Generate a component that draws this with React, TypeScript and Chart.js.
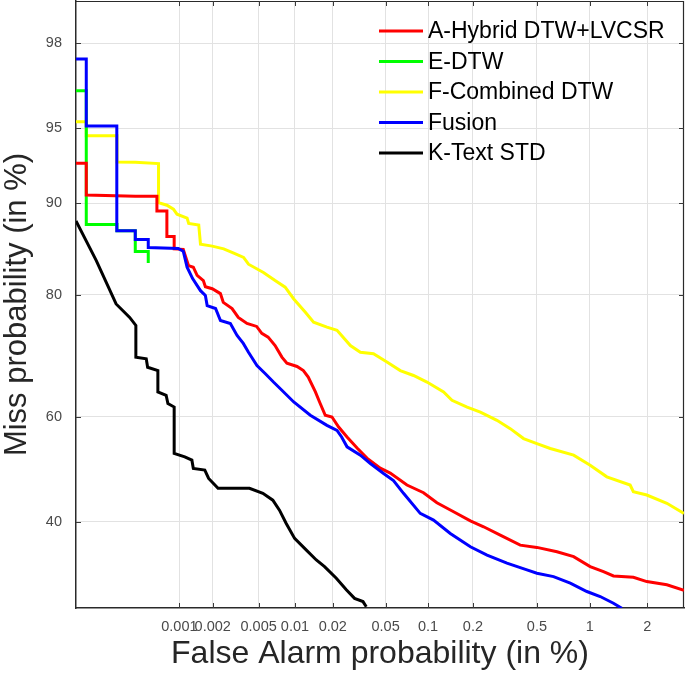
import React, { useEffect, useRef } from 'react';
import { Chart, registerables, LinearScale } from 'chart.js';

Chart.register(...registerables);

// ---------- axis definitions (values in %) ----------
const X_TICKS = [0.001, 0.002, 0.005, 0.01, 0.02, 0.05, 0.1, 0.2, 0.5, 1, 2];
const X_TICK_LABELS = ['0.001', '0.002', '0.005', '0.01', '0.02', '0.05', '0.1', '0.2', '0.5', '1', '2'];
const Y_TICKS = [40, 60, 80, 90, 95, 98];
const Y_TICK_LABELS = ['40', '60', '80', '90', '95', '98'];
const X_MIN = 0.0001;
const X_MAX = 3;
const Y_MIN = 25.2;
const Y_MAX = 98.8;

// ---------- series ----------
const SERIES_LABELS = ['A-Hybrid DTW+LVCSR', 'E-DTW', 'F-Combined DTW', 'Fusion', 'K-Text STD'];
const SERIES_COLORS = ['#ff0000', '#00ff00', '#ffff00', '#0000ff', '#000000'];

const A_FA = [0.0001, 0.000127, 0.000127, 0.000385, 0.000618, 0.000618, 0.000766, 0.000766, 0.000895, 0.000895, 0.001085, 0.00121, 0.00134, 0.00145, 0.00165, 0.00172, 0.00198, 0.00234, 0.00248, 0.00296, 0.00335, 0.00398, 0.00481, 0.00532, 0.00601, 0.00687, 0.00782, 0.0086, 0.0104, 0.0117, 0.0128, 0.0146, 0.0159, 0.01746, 0.0197, 0.0222, 0.02575, 0.0307, 0.0364, 0.0457, 0.054, 0.0712, 0.0931, 0.1151, 0.1492, 0.1926, 0.2345, 0.299, 0.397, 0.5, 0.655, 0.815, 1.006, 1.187, 1.341, 1.701, 1.986, 2.49, 3.0];
const A_MISS = [93.0, 93.0, 90.7, 90.6, 90.6, 89.35, 89.35, 86.9, 86.9, 85.6, 85.55, 83.7, 83.5, 82.5, 81.85, 81.06, 80.8, 80.15, 78.95, 78.08, 76.8, 75.9, 75.45, 74.4, 73.8, 72.46, 70.57, 69.57, 69.0, 68.3, 67.16, 64.54, 62.5, 60.28, 59.96, 58.07, 56.2, 54.1, 52.15, 50.23, 49.27, 46.98, 45.52, 43.6, 41.9, 40.2, 39.1, 37.56, 35.75, 35.34, 34.56, 33.7, 31.97, 31.1, 30.38, 30.15, 29.43, 28.9, 28.0];

const E_FA = [0.0001, 0.000127, 0.000127, 0.000256, 0.000256, 0.000385, 0.000385, 0.000512, 0.000512];
const E_MISS = [96.6, 96.6, 88.1, 88.1, 87.5, 87.5, 85.3, 85.3, 84.0];

const F_FA = [0.0001, 0.000127, 0.000127, 0.000256, 0.000256, 0.000385, 0.00064, 0.00064, 0.000766, 0.000881, 0.00095, 0.001176, 0.001216, 0.0015, 0.001555, 0.00198, 0.0025, 0.00306, 0.00372, 0.0041, 0.00549, 0.00687, 0.00832, 0.00978, 0.01214, 0.01412, 0.018, 0.02156, 0.0273, 0.0325, 0.0407, 0.0511, 0.0638, 0.0792, 0.0983, 0.1278, 0.1455, 0.1833, 0.2235, 0.285, 0.345, 0.416, 0.5, 0.599, 0.815, 1.006, 1.237, 1.637, 1.70, 1.986, 2.49, 3.0];
const F_MISS = [95.3, 95.3, 94.6, 94.6, 93.07, 93.05, 92.97, 90.07, 89.85, 89.5, 89.06, 88.7, 88.2, 88.05, 86.1, 85.9, 85.6, 85.12, 84.65, 83.86, 82.86, 81.85, 81.0, 79.42, 77.55, 76.1, 75.35, 74.85, 72.46, 71.38, 71.12, 69.74, 68.3, 67.45, 66.3, 64.54, 63.04, 61.8, 60.87, 59.34, 57.78, 55.9, 54.94, 54.0, 52.73, 50.8, 48.56, 46.98, 45.7, 45.08, 43.5, 41.6];

const FUSION_FA = [0.0001, 0.000127, 0.000127, 0.000255, 0.000255, 0.000385, 0.000385, 0.000512, 0.000512, 0.000975, 0.001085, 0.001176, 0.00132, 0.001555, 0.00172, 0.001785, 0.00212, 0.00234, 0.00286, 0.00327, 0.0037, 0.0041, 0.00484, 0.00567, 0.00666, 0.00782, 0.00978, 0.0133, 0.018, 0.02156, 0.0234, 0.02575, 0.0325, 0.0386, 0.0483, 0.057, 0.0673, 0.0883, 0.1091, 0.1418, 0.1926, 0.2467, 0.329, 0.436, 0.5, 0.626, 0.78, 0.965, 1.14, 1.341, 1.483];
const FUSION_MISS = [97.6, 97.6, 95.1, 95.1, 87.5, 87.5, 86.6, 86.6, 85.75, 85.65, 85.35, 83.5, 82.1, 80.54, 79.9, 78.5, 78.08, 76.34, 75.9, 74.06, 72.8, 71.38, 69.17, 67.8, 66.3, 64.84, 62.73, 60.28, 58.4, 57.46, 56.2, 54.32, 52.73, 51.13, 49.2, 47.85, 45.4, 41.6, 40.34, 37.87, 35.45, 33.98, 32.55, 31.4, 30.84, 30.26, 29.16, 27.8, 27.0, 25.94, 25.15];

const K_FA = [0.0001, 0.00016, 0.000251, 0.00034, 0.00039, 0.00039, 0.00049, 0.000505, 0.000631, 0.000631, 0.000754, 0.000783, 0.000895, 0.000895, 0.00112, 0.0013, 0.00134, 0.0017, 0.00184, 0.00223, 0.00418, 0.00543, 0.00658, 0.00747, 0.00849, 0.00994, 0.01237, 0.01484, 0.01724, 0.02129, 0.02542, 0.02938, 0.034, 0.036];
const K_MISS = [88.44, 84.28, 78.73, 76.8, 75.6, 70.57, 70.3, 68.86, 68.3, 64.53, 63.95, 62.44, 61.8, 53.06, 52.4, 51.77, 50.17, 49.85, 48.25, 46.36, 46.36, 45.4, 44.1, 42.2, 39.72, 36.96, 34.86, 33.12, 31.97, 29.98, 28.07, 26.7, 26.2, 25.4];

const SERIES_FA = [A_FA, E_FA, F_FA, FUSION_FA, K_FA];
const SERIES_MISS = [A_MISS, E_MISS, F_MISS, FUSION_MISS, K_MISS];

// ---------- normal deviate (probit) scale ----------
function probit(p: number): number {
  const a = [-3.969683028665376e1, 2.209460984245205e2, -2.759285104469687e2, 1.38357751867269e2, -3.066479806614716e1, 2.506628277459239];
  const b = [-5.447609879822406e1, 1.615858368580409e2, -1.556989798598866e2, 6.680131188771972e1, -1.328068155288572e1];
  const c = [-7.784894002430293e-3, -3.223964580411365e-1, -2.400758277161838, -2.549732539343734, 4.374664141464968, 2.938163982698783];
  const d = [7.784695709041462e-3, 3.224671290700398e-1, 2.445134137142996, 3.754408661907416];
  const plow = 0.02425;
  const phigh = 1 - plow;
  if (p <= 0) return -10;
  if (p >= 1) return 10;
  if (p < plow) {
    const q = Math.sqrt(-2 * Math.log(p));
    return (((((c[0] * q + c[1]) * q + c[2]) * q + c[3]) * q + c[4]) * q + c[5]) / ((((d[0] * q + d[1]) * q + d[2]) * q + d[3]) * q + 1);
  }
  if (p <= phigh) {
    const q = p - 0.5;
    const r = q * q;
    return ((((((a[0] * r + a[1]) * r + a[2]) * r + a[3]) * r + a[4]) * r + a[5]) * q) / (((((b[0] * r + b[1]) * r + b[2]) * r + b[3]) * r + b[4]) * r + 1);
  }
  const q = Math.sqrt(-2 * Math.log(1 - p));
  return -(((((c[0] * q + c[1]) * q + c[2]) * q + c[3]) * q + c[4]) * q + c[5]) / ((((d[0] * q + d[1]) * q + d[2]) * q + d[3]) * q + 1);
}

function normCdf(z: number): number {
  const t = 1 / (1 + 0.2316419 * Math.abs(z));
  const poly = t * (0.31938153 + t * (-0.356563782 + t * (1.781477937 + t * (-1.821255978 + t * 1.330274429))));
  const v = 1 - (Math.exp(-z * z / 2) / Math.sqrt(2 * Math.PI)) * poly;
  return z >= 0 ? v : 1 - v;
}

class ProbitScale extends (LinearScale as any) {
  static id = 'probit';
  static defaults = {};
  determineDataLimits() {
    const o: any = (this as any).options;
    (this as any).min = o.min;
    (this as any).max = o.max;
  }
  buildTicks() {
    return [];
  }
  getPixelForValue(value: number) {
    const self: any = this;
    const z0 = probit(self.min / 100);
    const z1 = probit(self.max / 100);
    return self.getPixelForDecimal((probit(value / 100) - z0) / (z1 - z0));
  }
  getValueForPixel(pixel: number) {
    const self: any = this;
    const z0 = probit(self.min / 100);
    const z1 = probit(self.max / 100);
    const dec = self.getDecimalForPixel(pixel);
    return normCdf(z0 + dec * (z1 - z0)) * 100;
  }
}
Chart.register(ProbitScale as any);

const FONT = '"Liberation Sans", Arial, Helvetica, sans-serif';

const framePlugin = {
  id: 'detFrame',
  beforeDatasetsDraw(chart: any) {
    const { ctx, chartArea: a, scales } = chart;
    ctx.save();
    ctx.strokeStyle = '#2a2a2a';
    ctx.lineWidth = 1.2;
    ctx.beginPath();
    ctx.moveTo(a.left, a.top + 0.5);
    ctx.lineTo(a.right, a.top + 0.5);
    ctx.moveTo(a.right - 0.5, a.top);
    ctx.lineTo(a.right - 0.5, a.bottom);
    ctx.stroke();
    const L = 5;
    ctx.lineWidth = 1;
    ctx.strokeStyle = '#3a3a3a';
    ctx.beginPath();
    scales.x.ticks.forEach((t: any) => {
      const px = Math.round(scales.x.getPixelForValue(t.value)) + 0.5;
      ctx.moveTo(px, a.bottom);
      ctx.lineTo(px, a.bottom - L);
      ctx.moveTo(px, a.top);
      ctx.lineTo(px, a.top + L);
    });
    scales.y.ticks.forEach((t: any) => {
      const py = Math.round(scales.y.getPixelForValue(t.value)) + 0.5;
      ctx.moveTo(a.left, py);
      ctx.lineTo(a.left + L, py);
      ctx.moveTo(a.right, py);
      ctx.lineTo(a.right - L, py);
    });
    ctx.stroke();
    ctx.restore();
  },
};

const legendPlugin = {
  id: 'detLegend',
  afterDatasetsDraw(chart: any) {
    const { ctx } = chart;
    ctx.save();
    ctx.font = `23px ${FONT}`;
    ctx.textBaseline = 'middle';
    ctx.textAlign = 'left';
    chart.data.datasets.forEach((ds: any, i: number) => {
      const y = 31 + i * 30.5;
      ctx.strokeStyle = ds.borderColor;
      ctx.lineWidth = 3;
      ctx.beginPath();
      ctx.moveTo(379, y);
      ctx.lineTo(423, y);
      ctx.stroke();
      ctx.fillStyle = '#000';
      ctx.fillText(ds.label, 428, y + 1);
    });
    ctx.restore();
  },
};

export default function App() {
  const ref = useRef<HTMLCanvasElement>(null);
  useEffect(() => {
    document.body.style.margin = '0';
    const datasets = SERIES_LABELS.map((label, i) => ({
      label,
      data: SERIES_FA[i].map((x, j) => ({ x, y: SERIES_MISS[i][j] })),
      borderColor: SERIES_COLORS[i],
      backgroundColor: SERIES_COLORS[i],
      borderWidth: 3,
      pointRadius: 0,
      showLine: true,
      fill: false,
      tension: 0,
      order: label === 'Fusion' ? -1 : i,
    }));
    const chart = new Chart(ref.current as HTMLCanvasElement, {
      type: 'scatter',
      data: { datasets },
      plugins: [framePlugin, legendPlugin],
      options: {
        responsive: false,
        animation: false,
        events: [],
        layout: { padding: { top: 1, right: 1, left: 0, bottom: 0 } },
        plugins: { legend: { display: false }, tooltip: { enabled: false } },
        scales: {
          x: {
            type: 'probit' as any,
            position: 'bottom',
            min: X_MIN,
            max: X_MAX,
            afterBuildTicks: (s: any) => {
              s.ticks = X_TICKS.map((v) => ({ value: v }));
            },
            afterFit: (s: any) => {
              s.height = 67;
              s.paddingLeft = 0;
              s.paddingRight = 0;
              s.paddingTop = 0;
              s.paddingBottom = 0;
            },
            grid: { color: '#e2e2e2', lineWidth: 1, drawTicks: false },
            border: { display: true, color: '#2a2a2a', width: 1.5 },
            ticks: {
              autoSkip: false,
              maxRotation: 0,
              padding: 10,
              color: '#4a4a4a',
              font: { family: FONT, size: 14.5 },
              callback: (_v: any, i: number) => X_TICK_LABELS[i],
            },
            title: {
              display: true,
              text: 'False Alarm probability (in %)',
              color: '#262626',
              font: { family: FONT, size: 32, lineHeight: 1.1 },
              padding: { top: 0, bottom: 3 },
            },
          } as any,
          y: {
            type: 'probit' as any,
            position: 'left',
            min: Y_MIN,
            max: Y_MAX,
            afterBuildTicks: (s: any) => {
              s.ticks = Y_TICKS.map((v) => ({ value: v }));
            },
            afterFit: (s: any) => {
              s.width = 76;
              s.paddingLeft = 0;
              s.paddingRight = 0;
              s.paddingTop = 0;
              s.paddingBottom = 0;
            },
            grid: { color: '#e2e2e2', lineWidth: 1, drawTicks: false },
            border: { display: true, color: '#2a2a2a', width: 1.5 },
            ticks: {
              autoSkip: false,
              padding: 14,
              color: '#4a4a4a',
              font: { family: FONT, size: 14.5 },
              callback: (_v: any, i: number) => Y_TICK_LABELS[i],
            },
            title: {
              display: true,
              text: 'Miss probability (in %)',
              color: '#262626',
              font: { family: FONT, size: 31, lineHeight: 1.1 },
              padding: { top: 0, bottom: 0 },
            },
          } as any,
        },
      } as any,
    });
    return () => chart.destroy();
  }, []);
  return (
    <div style={{ width: 685, height: 675, background: '#ffffff' }}>
      <canvas ref={ref} width={685} height={675} style={{ display: 'block' }} />
    </div>
  );
}
